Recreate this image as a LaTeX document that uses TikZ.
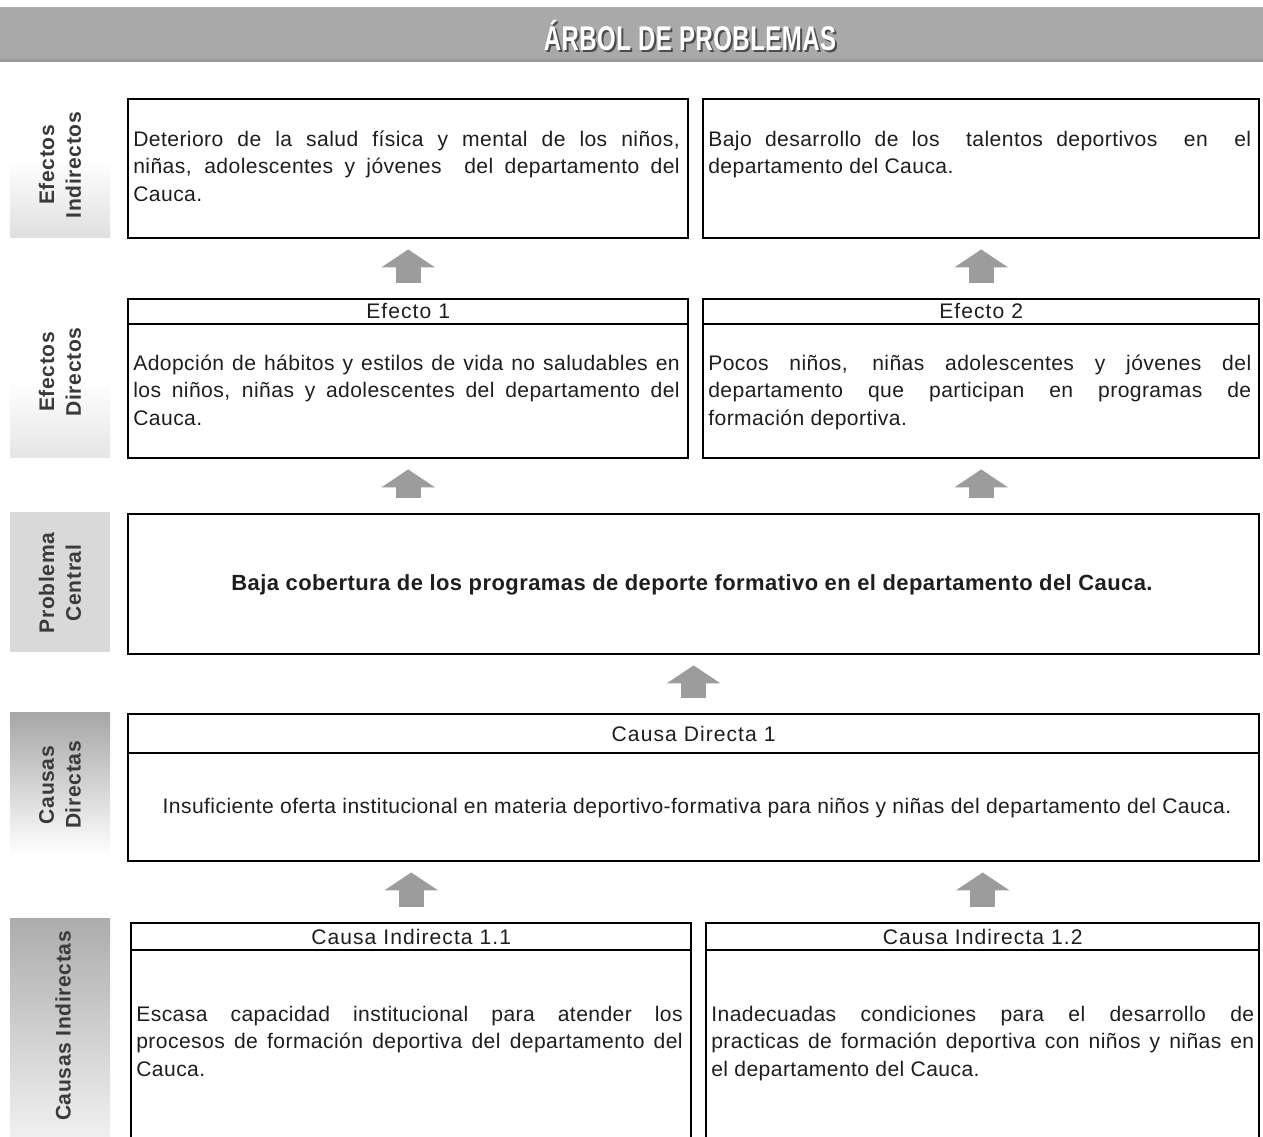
\documentclass[tikz,border=0pt]{standalone}
\usepackage{fontspec}
\usepackage{graphicx}
\setmainfont[LetterSpace=2]{Liberation Sans}
\newfontfamily\hdrfam[LetterSpace=5]{Liberation Sans}
\newfontfamily\lblfam[LetterSpace=3]{Liberation Sans}
\usetikzlibrary{arrows.meta,calc}
\definecolor{arrgray}{HTML}{9C9C9C}
\definecolor{bargray}{HTML}{A9A9A9}
\definecolor{lbltext}{HTML}{3A3A3A}
\definecolor{txtcol}{HTML}{1E1E1E}
\newcommand\JL[2]{\hbox to #1{#2}}
\newcommand\LL[1]{\hbox{#1}}
\newlength\lw \setlength\lw{311pt}
\newlength\rw \setlength\rw{309pt}
\begin{document}
\begin{tikzpicture}[x=0.02cm,y=-0.02cm,
  box/.style={draw=black,line width=1.4pt,inner sep=0pt,anchor=north west},
  sepline/.style={draw=black,line width=1.4pt},
  hdr/.style={font=\hdrfam\fontsize{12}{14}\selectfont,text=txtcol,inner sep=0pt},
  bodytxt/.style={font=\fontsize{12}{15.9}\selectfont,text=txtcol,inner sep=0pt,anchor=base west},
  lbl/.style={font=\lblfam\fontsize{12}{15.3}\selectfont\bfseries,text=lbltext,rotate=90,align=center,inner sep=0pt},
  blockarr/.style={draw=arrgray,line width=0.5cm,-{Triangle[width=1.06cm,length=0.36cm]},shorten >=0.2cm,shorten <=0.3cm},
  titlefont/.style={font=\fontsize{19.5}{21}\selectfont\bfseries,inner sep=0pt}]
\useasboundingbox (0,0) rectangle (1263,1136);
\clip (0,0) rectangle (1263,1136);
% title bar
\fill[bargray] (0,7) rectangle (1263,62);
\fill[black!40] (0,59) rectangle (1263,62);
\node[titlefont,text=black!70] (titsh) at (692,37) {\scalebox{0.70}[1]{ÁRBOL DE PROBLEMAS}};
\node[titlefont,text=white] (title) at (690,35) {\scalebox{0.70}[1]{ÁRBOL DE PROBLEMAS}};
% label backgrounds
\shade[top color=white,bottom color=gray!25] (10,160) rectangle (110,237);
\shade[top color=white,bottom color=gray!20] (10,380) rectangle (110,457);
\fill[gray!30] (10,512) rectangle (110,652);
\shade[top color=gray!70,bottom color=white] (10,712) rectangle (110,855);
\shade[top color=gray!65,bottom color=gray!12] (10,918) rectangle (110,1136);
% labels
\node[lbl] (l1) at (60,165) {Efectos\\Indirectos};
\node[lbl] (l2) at (60,372) {Efectos\\Directos};
\node[lbl] (l3) at (60,583) {Problema\\Central};
\node[lbl] (l4) at (60,785) {Causas\\Directas};
\node[lbl] (l5) at (63,1026) {Causas Indirectas};
% boxes
\node[box,minimum width=11.2cm,minimum height=2.78cm] (ei1) at (127,98) {};
\node[box,minimum width=11.12cm,minimum height=2.78cm] (ei2) at (702,98) {};
\node[box,minimum width=11.2cm,minimum height=3.18cm] (ef1) at (127,298) {};
\node[box,minimum width=11.12cm,minimum height=3.18cm] (ef2) at (702,298) {};
\draw[sepline] ($(ef1.north west)+(0,26)$) -- ($(ef1.north east)+(0,26)$);
\draw[sepline] ($(ef2.north west)+(0,26)$) -- ($(ef2.north east)+(0,26)$);
\node[box,minimum width=22.62cm,minimum height=2.8cm] (pc) at (127,513) {};
\node[box,minimum width=22.62cm,minimum height=2.94cm] (cd) at (127,713) {};
\draw[sepline] ($(cd.north west)+(0,40)$) -- ($(cd.north east)+(0,40)$);
\node[box,minimum width=11.2cm,minimum height=5cm] (ci1) at (130,922) {};
\node[box,minimum width=11.06cm,minimum height=5cm] (ci2) at (705,922) {};
\draw[sepline] ($(ci1.north west)+(0,28)$) -- ($(ci1.north east)+(0,28)$);
\draw[sepline] ($(ci2.north west)+(0,28)$) -- ($(ci2.north east)+(0,28)$);
% headers
\node[hdr] (h1) at ($(ef1.north)+(0,13)$) {Efecto 1};
\node[hdr] (h2) at ($(ef2.north)+(0,13)$) {Efecto 2};
\node[hdr] (h3) at ($(cd.north)+(0,21)$) {Causa Directa 1};
\node[hdr] (h4) at ($(ci1.north)+(0,15)$) {Causa Indirecta 1.1};
\node[hdr] (h5) at ($(ci2.north)+(0,15)$) {Causa Indirecta 1.2};
% texts
\node[bodytxt] (t1) at (133,146) {\vtop{\JL\lw{Deterioro de la salud física y mental de los niños,}\JL\lw{niñas, adolescentes y jóvenes\ \ del departamento del}\LL{Cauca.}}};
\node[bodytxt] (t2) at (708,146) {\vtop{\JL\rw{Bajo desarrollo de los\ \ talentos deportivos\ \ en\ \ el}\LL{departamento del Cauca.}}};
\node[bodytxt] (t3) at (133,370) {\vtop{\JL\lw{Adopción de hábitos y estilos de vida no saludables en}\JL\lw{los niños, niñas y adolescentes del departamento del}\LL{Cauca.}}};
\node[bodytxt] (t4) at (708,370) {\vtop{\JL\rw{Pocos niños, niñas adolescentes y jóvenes del}\JL\rw{departamento que participan en programas de}\LL{formación deportiva.}}};
\node[font=\fontsize{12.5}{14}\selectfont\bfseries,text=txtcol,inner sep=0pt] (t5) at (692,585) {Baja cobertura de los programas de deporte formativo en el departamento del Cauca.};
\node[font=\fontsize{12}{14}\selectfont,text=txtcol,inner sep=0pt] (t6) at (697,808) {Insuficiente oferta institucional en materia deportivo-formativa para niños y niñas del departamento del Cauca.};
\node[bodytxt] (t7) at (136,1021) {\vtop{\JL\lw{Escasa capacidad institucional para atender los}\JL\lw{procesos de formación deportiva del departamento del}\LL{Cauca.}}};
\node[bodytxt] (t8) at (711,1021) {\vtop{\JL\rw{Inadecuadas condiciones para el desarrollo de}\JL\rw{practicas de formación deportiva con niños y niñas en}\LL{el departamento del Cauca.}}};
% arrows
\draw[blockarr] (ef1.north) -- (ei1.south);
\draw[blockarr] (ef2.north) -- (ei2.south);
\draw[blockarr] (pc.north -| ef1.south) -- (ef1.south);
\draw[blockarr] (pc.north -| ef2.south) -- (ef2.south);
\draw[blockarr] (cd.north) -- (pc.south);
\draw[blockarr] (ci1.north) -- (ci1.north |- cd.south);
\draw[blockarr] (ci2.north) -- (ci2.north |- cd.south);
\end{tikzpicture}
\end{document}
